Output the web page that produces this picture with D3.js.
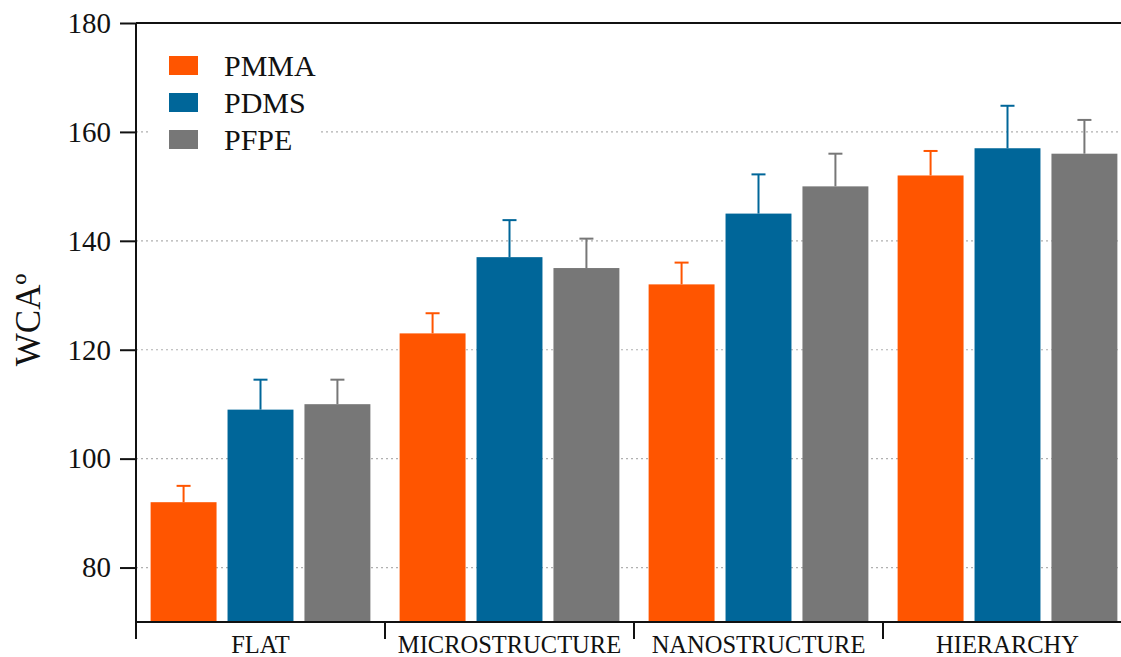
<!DOCTYPE html>
<html><head><meta charset="utf-8">
<script src="https://cdn.jsdelivr.net/npm/d3@7"></script>
<style>body{margin:0;background:#fff}svg{display:block}</style>
</head><body><svg id="c" width="1121" height="657"></svg>
<script>
const categories = ["FLAT","MICROSTRUCTURE","NANOSTRUCTURE","HIERARCHY"];
const seriesNames = ["PMMA","PDMS","PFPE"];
const pmmaValues = [92,123,132,152];
const pdmsValues = [109,137,145,157];
const pfpeValues = [110,135,150,156];
const pmmaErrors = [3,3.7,4,4.5];
const pdmsErrors = [5.5,6.8,7.2,7.8];
const pfpeErrors = [4.5,5.4,6,6.2];
const yTicks = [80,100,120,140,160,180];
const colors = ["#ff5500","#006699","#777777"];

const values = [pmmaValues,pdmsValues,pfpeValues];
const errors = [pmmaErrors,pdmsErrors,pfpeErrors];
const FONT = "font-family:'Liberation Serif',serif;fill:#111";

const svg = d3.select("#c");
const mLeft = 136, mTop = 23, mBottom = 622, groupW = 249;
const x = d3.scaleBand().domain(categories).range([mLeft, mLeft + groupW*categories.length]).padding(0);
const xi = d3.scaleBand().domain(seriesNames).range([0, x.bandwidth()]).paddingInner(11/77).paddingOuter(0.19);
const y = d3.scaleLinear().domain([70,180]).range([mBottom, mTop]);

// grid
svg.append("g").selectAll("line").data(yTicks.filter(t=>t<180)).join("line")
  .attr("x1", mLeft).attr("x2", 1121).attr("y1", d=>y(d)).attr("y2", d=>y(d))
  .attr("stroke","#b0b0b0").attr("stroke-width",1.2).attr("stroke-dasharray","2,3");

// top border
svg.append("line").attr("x1",mLeft).attr("x2",1121).attr("y1",y(180)).attr("y2",y(180))
  .attr("stroke","#111").attr("stroke-width",2);

// bars
const data = [];
categories.forEach((c,i)=>seriesNames.forEach((s,j)=>data.push({c,s,j,v:values[j][i],e:errors[j][i]})));
const g = svg.append("g");
g.selectAll("rect").data(data).join("rect")
  .attr("x", d=>x(d.c)+xi(d.s)).attr("width", xi.bandwidth())
  .attr("y", d=>y(d.v)).attr("height", d=>y(70)-y(d.v))
  .attr("fill", d=>colors[d.j]);
// error bars
const eb = svg.append("g");
eb.selectAll("line.v").data(data).join("line").attr("class","v")
  .attr("x1", d=>x(d.c)+xi(d.s)+xi.bandwidth()/2).attr("x2", d=>x(d.c)+xi(d.s)+xi.bandwidth()/2)
  .attr("y1", d=>y(d.v)).attr("y2", d=>y(d.v+d.e))
  .attr("stroke", d=>colors[d.j]).attr("stroke-width",2);
eb.selectAll("line.h").data(data).join("line").attr("class","h")
  .attr("x1", d=>x(d.c)+xi(d.s)+xi.bandwidth()/2-7).attr("x2", d=>x(d.c)+xi(d.s)+xi.bandwidth()/2+7)
  .attr("y1", d=>y(d.v+d.e)).attr("y2", d=>y(d.v+d.e))
  .attr("stroke", d=>colors[d.j]).attr("stroke-width",2);

// y axis
const ya = svg.append("g").attr("transform",`translate(${mLeft},0)`)
  .call(d3.axisLeft(y).tickValues(yTicks).tickSize(16).tickPadding(9).tickFormat(d3.format("d")));
ya.attr("font-family",null);
ya.select(".domain").attr("d",`M0,${mTop}V${mBottom}`).attr("stroke","#111").attr("stroke-width",2);
ya.selectAll(".tick line").attr("stroke","#111").attr("stroke-width",2);
ya.selectAll(".tick text").attr("font-size",29).attr("style",FONT);

// x axis
const xa = svg.append("g").attr("transform",`translate(0,${mBottom})`);
xa.append("line").attr("x1",mLeft).attr("x2",1121).attr("y1",0).attr("y2",0).attr("stroke","#111").attr("stroke-width",2);
const bounds = categories.map(c=>x(c)).concat([x(categories[categories.length-1])+x.bandwidth()]);
xa.selectAll("line.t").data(bounds).join("line").attr("class","t")
  .attr("x1",d=>d).attr("x2",d=>d).attr("y1",0).attr("y2",17).attr("stroke","#111").attr("stroke-width",2);
xa.selectAll("text").data(categories).join("text")
  .attr("x", d=>x(d)+x.bandwidth()/2).attr("y", 31).attr("text-anchor","middle")
  .attr("font-size",24.5).attr("style",FONT).text(d=>d);

// y label
svg.append("text").attr("transform","translate(40,320) rotate(-90)").attr("text-anchor","middle")
  .attr("font-size",35).attr("style",FONT).text("WCAº");

// legend
const lg = svg.append("g");
lg.append("rect").attr("x",150).attr("y",42).attr("width",170).attr("height",120).attr("fill","#fff");
seriesNames.forEach((s,j)=>{
  const cy = 65.5 + j*37;
  lg.append("rect").attr("x",169).attr("y",cy-9.5).attr("width",29).attr("height",19).attr("fill",colors[j]);
  lg.append("text").attr("x",224).attr("y",cy+10.5).attr("font-size",30).attr("style",FONT).text(s);
});
</script></body></html>
